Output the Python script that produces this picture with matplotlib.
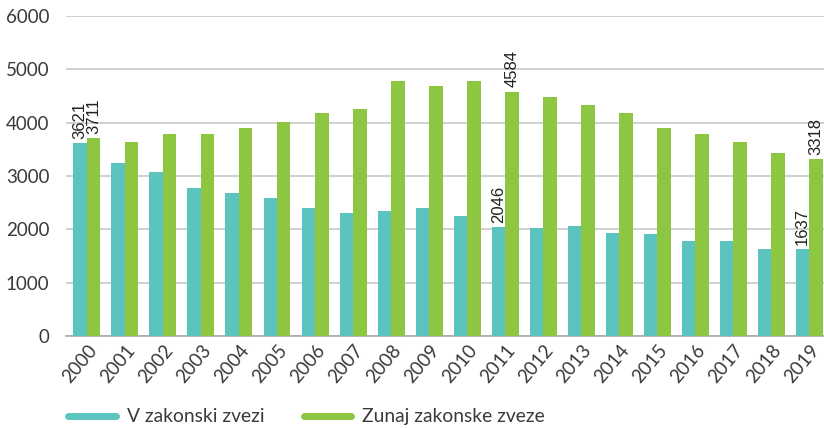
import matplotlib
matplotlib.use("Agg")
import matplotlib.pyplot as plt
import numpy as np
from matplotlib.lines import Line2D

years = [str(y) for y in range(2000, 2020)]
v_zakonski = [3621, 3240, 3070, 2770, 2680, 2580, 2400, 2300, 2340, 2400,
              2250, 2046, 2020, 2060, 1930, 1910, 1780, 1780, 1630, 1637]
zunaj = [3711, 3630, 3780, 3780, 3900, 4010, 4180, 4250, 4790, 4680,
         4790, 4584, 4480, 4330, 4180, 3900, 3780, 3630, 3430, 3318]
labeled_years = ["2000", "2011", "2019"]
series_names = ["V zakonski zvezi", "Zunaj zakonske zveze"]

teal = "#5BC4BF"
green = "#8DC641"
txt = "#3a3a3a"

fig = plt.figure(figsize=(8.24, 4.28), dpi=100)
ax = fig.add_axes([0.080, 0.215, 0.920, 0.7476])

x = np.arange(len(years))
w = 0.355
ax.bar(x - w/2, v_zakonski, width=w, color=teal, zorder=3)
ax.bar(x + w/2, zunaj, width=w, color=green, zorder=3)

for i, y in enumerate(years):
    if y in labeled_years:
        ax.annotate(str(v_zakonski[i]), (x[i] - w/2, v_zakonski[i]), xytext=(0, 3),
                    textcoords="offset points", rotation=90, ha="center", va="bottom",
                    fontsize=12, family="Liberation Sans", color="#222222", zorder=4)
        ax.annotate(str(zunaj[i]), (x[i] + w/2, zunaj[i]), xytext=(0, 3),
                    textcoords="offset points", rotation=90, ha="center", va="bottom",
                    fontsize=12, family="Liberation Sans", color="#222222", zorder=4)

ax.set_ylim(0, 6000)
ax.set_xlim(-0.553, 19.39)
ax.set_yticks(range(0, 6001, 1000))
ax.yaxis.grid(True, color="#c8c8c8", linewidth=1.2, zorder=0)
ax.set_axisbelow(True)
for s in ["top", "right", "left"]:
    ax.spines[s].set_visible(False)
ax.spines["bottom"].set_color("#aaaaaa")
ax.spines["bottom"].set_linewidth(1.2)
ax.tick_params(axis="both", length=0, labelsize=13.5, labelcolor=txt)
ax.tick_params(axis="y", pad=12)
ax.tick_params(axis="x", pad=4)
ax.set_xticks(x)
ax.set_xticklabels(years, rotation=50, ha="right", rotation_mode="anchor", family="Lato")
for lab in ax.get_yticklabels():
    lab.set_family("Lato")

handles = [Line2D([0], [0], color=teal, lw=5, solid_capstyle="round"),
           Line2D([0], [0], color=green, lw=5, solid_capstyle="round")]
leg = fig.legend(handles, series_names, loc="center left", bbox_to_anchor=(0.083, 0.026),
                 ncol=2, frameon=False, handlelength=2.45, handletextpad=0.6,
                 columnspacing=2.0, borderpad=0, borderaxespad=0,
                 prop={"family": "Lato", "size": 13.9})
for t in leg.get_texts():
    t.set_color(txt)

fig.savefig("out.png", dpi=100)
